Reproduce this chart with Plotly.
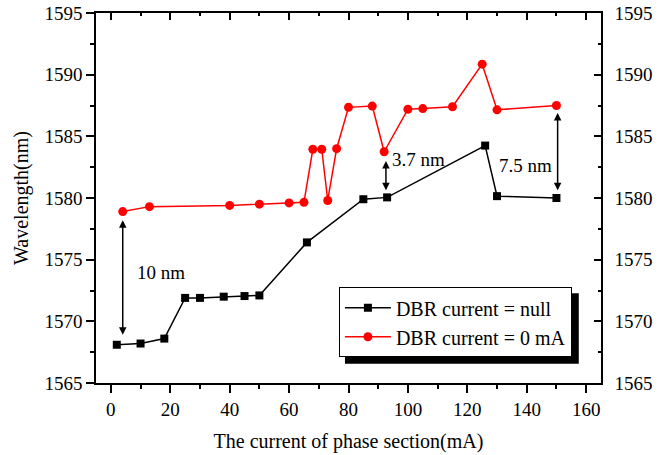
import plotly.graph_objects as go

# ---- data ----
current_null = [2, 10, 18, 25, 30, 38, 45, 50, 66, 85, 93, 126, 130, 150]
wl_null = [1568.1, 1568.2, 1568.6, 1571.9, 1571.9, 1572.0, 1572.05, 1572.1,
           1576.4, 1579.9, 1580.05, 1584.25, 1580.15, 1580.0]

current_0ma = [4, 13, 40, 50, 60, 65, 68, 71, 73, 76, 80, 88, 92, 100, 105,
               115, 125, 130, 150]
wl_0ma = [1578.9, 1579.3, 1579.4, 1579.5, 1579.6, 1579.65, 1583.95, 1583.95,
          1579.8, 1584.0, 1587.35, 1587.45, 1583.75, 1587.2, 1587.25, 1587.4,
          1590.85, 1587.15, 1587.5]

series_names = ["DBR current = null", "DBR current = 0 mA"]
x_ticks = [0, 20, 40, 60, 80, 100, 120, 140, 160]
y_ticks = [1565, 1570, 1575, 1580, 1585, 1590, 1595]

gap_labels = ["10 nm", "3.7 nm", "7.5 nm"]
gap_current = [4, 92.6, 150.4]
gap_low = [1568.8, 1580.5, 1580.5]
gap_high = [1578.2, 1583.0, 1586.9]
label_x = [16.8, 94.0, 139.7]
label_y = [1574.0, 1583.1, 1582.6]
label_anchor = ["center", "left", "center"]

FONT = "Liberation Serif"
XR = [-5, 165]
YR = [1565, 1595]

fig = go.Figure()
fig.add_trace(go.Scatter(
    x=current_null, y=wl_null, name=series_names[0], mode="lines+markers",
    line=dict(color="black", width=1.5),
    marker=dict(symbol="square", size=8, color="black")))
fig.add_trace(go.Scatter(
    x=current_0ma, y=wl_0ma, name=series_names[1], mode="lines+markers",
    line=dict(color="#ff0000", width=1.5),
    marker=dict(symbol="circle", size=9, color="#ff0000")))
# invisible trace to activate the mirror axes (top / right)
fig.add_trace(go.Scatter(
    x=current_null, y=wl_null, xaxis="x2", yaxis="y2", mode="markers",
    marker=dict(opacity=0), showlegend=False, hoverinfo="skip"))

axis_common = dict(showgrid=False, zeroline=False, showline=True, automargin=False,
                   linecolor="black", linewidth=1.5, tickcolor="black",
                   tickwidth=1.5, tickfont=dict(family=FONT, size=19, color="black"))

fig.update_layout(
    width=666, height=455,
    margin=dict(l=96, r=65, t=13, b=72),
    paper_bgcolor="white", plot_bgcolor="white",
    font=dict(family=FONT, size=19, color="black"),
    xaxis=dict(range=XR, tickvals=x_ticks, ticks="outside", ticklen=8,
               minor=dict(dtick=10, tick0=0, ticks="outside", ticklen=4,
                          tickcolor="black", tickwidth=1.5),
               title=dict(text="The current of phase section(mA)",
                          font=dict(family=FONT, size=20, color="black"), standoff=15),
               **axis_common),
    yaxis=dict(range=YR, tickvals=y_ticks, ticks="outside", ticklen=8,
               minor=dict(dtick=2.5, tick0=1565, ticks="outside", ticklen=4,
                          tickcolor="black", tickwidth=1.5),
               title=dict(text="Wavelength(nm)",
                          font=dict(family=FONT, size=20, color="black"), standoff=10),
               **axis_common),
    xaxis2=dict(range=XR, overlaying="x", side="top", tickvals=x_ticks,
                ticks="inside", ticklen=7, showticklabels=False,
                minor=dict(dtick=10, tick0=0, ticks="inside", ticklen=3,
                           tickcolor="black", tickwidth=1.5),
                **axis_common),
    yaxis2=dict(range=YR, overlaying="y", side="right", tickvals=y_ticks,
                ticks="inside", ticklen=7, ticklabelstandoff=8,
                minor=dict(dtick=2.5, tick0=1565, ticks="inside", ticklen=3,
                           tickcolor="black", tickwidth=1.5),
                **axis_common),
    legend=dict(x=0.481, y=0.2587, xanchor="left", yanchor="top",
                bgcolor="white", bordercolor="black", borderwidth=1,
                font=dict(family=FONT, size=20, color="black"),
                tracegroupgap=0, itemwidth=46),
    showlegend=True,
)

# legend drop shadow, drawn below the data layer so nothing but the legend covers it
fig.add_shape(type="rect", xref="paper", yref="paper",
              x0=0.493, x1=0.956, y0=0.052, y1=0.2425,
              fillcolor="black", line=dict(width=0), layer="below")

for i, txt in enumerate(gap_labels):
    fig.add_annotation(x=gap_current[i], y=gap_high[i], ax=gap_current[i], ay=gap_low[i],
                       xref="x", yref="y", axref="x", ayref="y", text="",
                       showarrow=True, arrowhead=2, arrowside="end+start",
                       arrowsize=1, arrowwidth=1.5, arrowcolor="black",
                       standoff=0, startstandoff=0)
    fig.add_annotation(x=label_x[i], y=label_y[i], xref="x", yref="y", text=txt,
                       showarrow=False, xanchor=label_anchor[i], yanchor="middle",
                       font=dict(family=FONT, size=19, color="black"))

fig.write_html("out.html")
